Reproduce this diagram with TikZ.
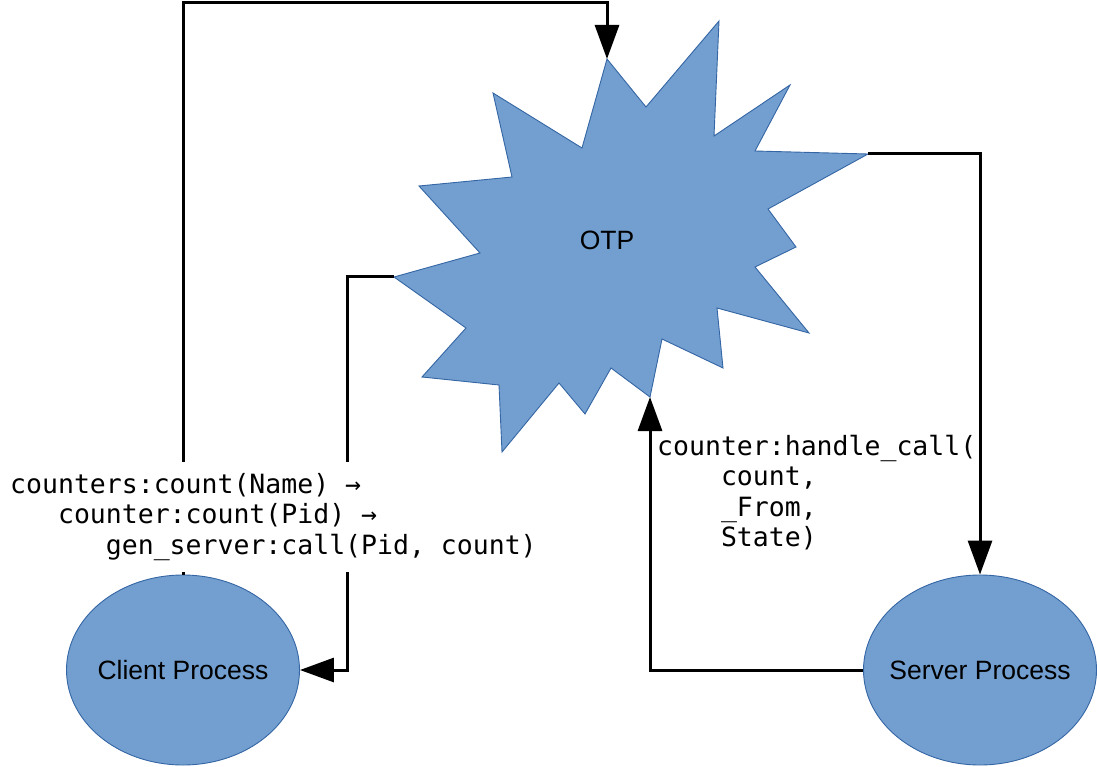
\documentclass[tikz,border=0pt]{standalone}
\usepackage{fontspec}
\setmainfont{Liberation Sans}
\setmonofont{DejaVu Sans Mono}
\usepackage{tikz}
\usetikzlibrary{arrows.meta,shapes.geometric,calc}
\definecolor{otpblue}{HTML}{729FCF}
\definecolor{otpedge}{HTML}{3465A4}
\tikzset{
  proc/.style={ellipse, draw=otpedge, fill=otpblue, line width=0.9pt,
    minimum width=233pt, minimum height=190pt, inner xsep=-12pt, inner ysep=0pt,
    font=\fontsize{26.5}{30}\selectfont},
  flow/.style={-{Triangle[length=34pt,width=24pt]}, line width=3pt},
  code/.style={font=\ttfamily\fontsize{26.5}{30.5}\selectfont, align=left}
}

\begin{document}
\begin{tikzpicture}[x=1pt, y=-1pt]
\useasboundingbox (0,0) rectangle (1097,767);
% the OTP burst, corner by corner clockwise from the top
\foreach \px/\py [count=\i] in {607/59,646/107,719/21,714/136,790/85,755/151,
  868/154,768/209,796/247,755/267,809/333,717/308,723/368,662/339,
  650/397,611/368,585/414,559/383,502/452,499/385,422/377,466/328,
  394/277,480/253,419/186,512/177,493/93,582/148}
  {\coordinate (s\i) at (\px,\py);}
\draw[fill=otpblue, draw=otpedge, line width=0.9pt] (s1) \foreach \i in {2,...,28} {-- (s\i)} -- cycle;
\node (otp) at (607,240) {\fontsize{26.5}{30}\selectfont OTP};
% the two processes
\node[proc] (client) at (183,670) {Client Process};
\node[proc] (server) at (980,670) {Server Process};
% connectors
\coordinate (jt) at (400,3);
\coordinate (jl) at (347,277);
\draw[flow] (client.north) |- (jt) -| (s1);
\draw[flow] (s23) -- (jl) |- (client.east);
\draw[flow] (server.west) -| (s15);
\draw[flow] (s7) -| (server.north);
% call chain labels
\node[code, fill=white, anchor=north west, inner xsep=8pt, inner ysep=11pt] (cmdcall) at (2,462)
  {counters:count(Name) →\\
   \phantom{xxx}counter:count(Pid) →\\
   \phantom{xxxxxx}gen\_server:call(Pid, count)};
\node[code, anchor=north west, inner sep=0pt] (cmdhandle) at (657,435)
  {counter:handle\_call(\\
   \phantom{xxxx}count,\\
   \phantom{xxxx}\_From,\\
   \phantom{xxxx}State)};
\end{tikzpicture}
\end{document}
